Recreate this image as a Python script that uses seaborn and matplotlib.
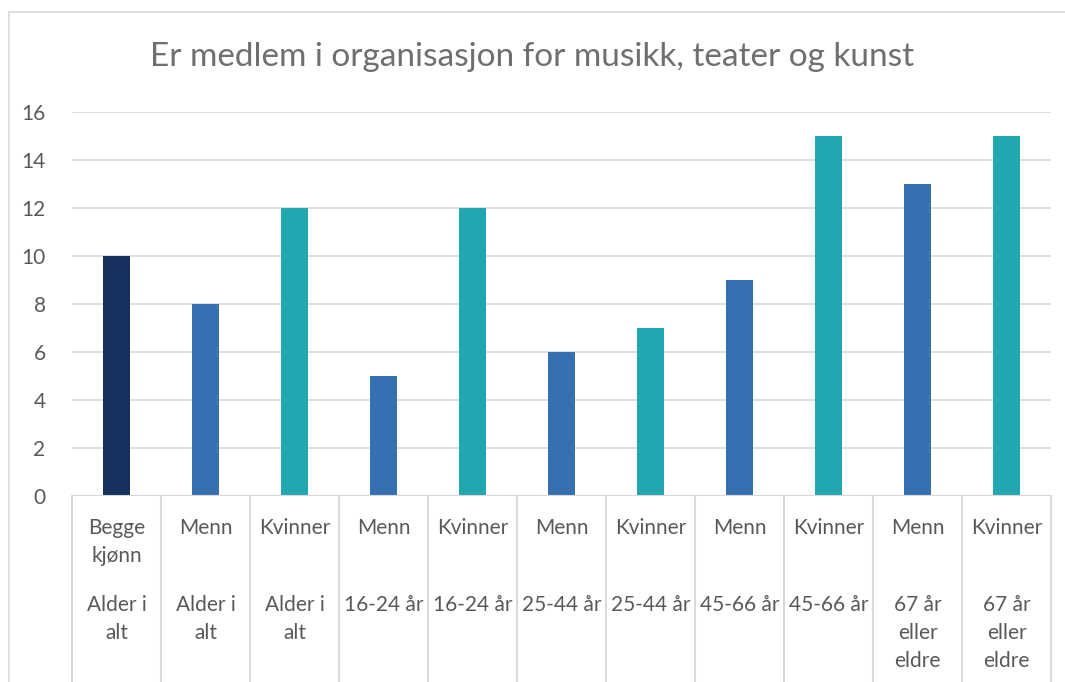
import pandas as pd
import numpy as np
import seaborn as sns
import matplotlib.pyplot as plt
from matplotlib.lines import Line2D

# data
kjonn = ["Begge\nkjønn", "Menn", "Kvinner", "Menn", "Kvinner", "Menn", "Kvinner",
         "Menn", "Kvinner", "Menn", "Kvinner"]
alder = ["Alder i\nalt", "Alder i\nalt", "Alder i\nalt", "16-24 år", "16-24 år",
         "25-44 år", "25-44 år", "45-66 år", "45-66 år", "67 år\neller\neldre",
         "67 år\neller\neldre"]
gruppe = ["Begge", "Menn", "Kvinner", "Menn", "Kvinner", "Menn", "Kvinner",
          "Menn", "Kvinner", "Menn", "Kvinner"]
verdier = [10, 8, 12, 5, 12, 6, 7, 9, 15, 13, 15]

farger = {"Begge": "#17305E", "Menn": "#3571B0", "Kvinner": "#22A6B0"}

df = pd.DataFrame({"pos": [str(i) for i in range(len(verdier))],
                   "gruppe": gruppe, "verdi": verdier})

sns.set_style("white")
plt.rcParams['font.family'] = ['Lato', 'DejaVu Sans']
tekst = "#595959"
linje = "#D9D9D9"

fig = plt.figure(figsize=(10.65, 6.82), dpi=100)
W, H = 1065, 682
x0, x1, y0, y1 = 72, 1051, 496, 112
ax = fig.add_axes([x0 / W, (H - y0) / H, (x1 - x0) / W, (y0 - y1) / H])

sns.barplot(data=df, x="pos", y="verdi", hue="gruppe", palette=farger,
            width=0.31, dodge=False, legend=False, saturation=1,
            linewidth=0, ax=ax)

ax.set_ylim(0, 16)
ax.set_xlim(-0.5, len(verdier) - 0.5)
ax.set_yticks(range(0, 17, 2))
ax.yaxis.grid(True, color=linje, linewidth=1.2)
ax.set_axisbelow(True)
for s in ax.spines.values():
    s.set_visible(False)
ax.tick_params(axis="y", length=0, pad=19, labelsize=15, labelcolor=tekst)
ax.set_xticks([])
ax.set_xlabel("")
ax.set_ylabel("")
ax.axhline(0, color=linje, linewidth=1.5)

# axis table below the plot
trans = ax.get_xaxis_transform()
bunn = -(H - y0) / (y0 - y1)
for i in range(len(verdier) + 1):
    ax.add_line(Line2D([i - 0.5, i - 0.5], [0, bunn], transform=trans,
                       color=linje, linewidth=1.5, clip_on=False))
for i, (k, a) in enumerate(zip(kjonn, alder)):
    ax.text(i, -22 / 384, k, transform=trans, ha="center", va="top",
            fontsize=15, color=tekst, linespacing=1.5)
    ax.text(i, -99 / 384, a, transform=trans, ha="center", va="top",
            fontsize=15, color=tekst, linespacing=1.5)

fig.text(0.5, (H - 57) / H, "Er medlem i organisasjon for musikk, teater og kunst",
         ha="center", va="center", fontsize=24, color="#6F6F6F")

# chart border
fig.add_artist(Line2D([9 / W, 9 / W], [0, (H - 12) / H], color=linje, linewidth=1.2))
fig.add_artist(Line2D([9 / W, 1], [(H - 12) / H, (H - 12) / H], color=linje, linewidth=1.2))

fig.savefig("out.png", dpi=100)
